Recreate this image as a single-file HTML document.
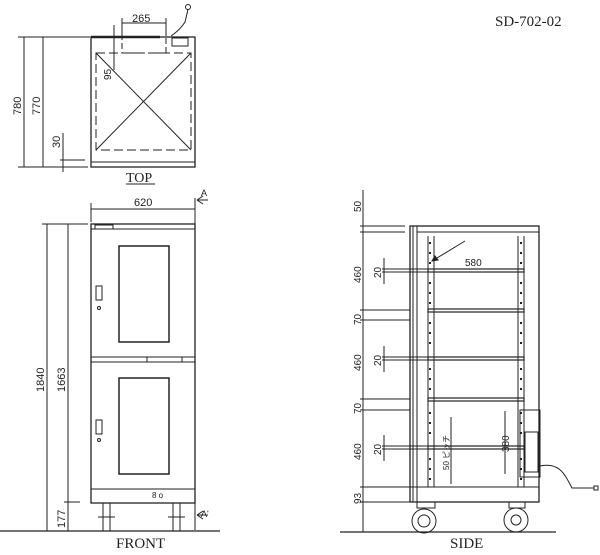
<!DOCTYPE html>
<html><head><meta charset="utf-8"><style>
html,body{margin:0;padding:0;background:#fff;}
svg{display:block;}
text{font-family:"Liberation Sans","Noto Sans CJK JP",sans-serif;fill:#222;}
.s{font-family:"Liberation Serif",serif;}
</style></head><body>
<svg width="600" height="555" viewBox="0 0 600 555" xmlns="http://www.w3.org/2000/svg" stroke="#222" fill="none" stroke-width="1">
<text class="s" x="495" y="26" font-size="15" stroke="none">SD-702-02</text>

<!-- TOP VIEW -->
<rect x="91" y="37" width="104" height="130" stroke-width="1.3"/>
<line x1="91" y1="162" x2="195" y2="162"/>
<rect x="96" y="53" width="95" height="97" stroke-dasharray="9,4"/>
<line x1="96" y1="53" x2="191" y2="150"/><line x1="191" y1="53" x2="96" y2="150"/>
<rect x="122" y="37" width="44" height="16" stroke-dasharray="6,3"/>
<line x1="91" y1="37" x2="160" y2="37" stroke-width="2.5"/>
<rect x="172" y="38" width="16" height="8"/>
<path d="M171 36 Q180 30 185 22 Q187 14 188 9"/>
<circle cx="188" cy="7" r="2.5"/>
<line x1="122" y1="23" x2="166" y2="23"/><line x1="122" y1="18" x2="122" y2="36"/><line x1="166" y1="18" x2="166" y2="36"/>
<text x="132" y="22" font-size="11" stroke="none">265</text>
<line x1="114" y1="25" x2="114" y2="70"/>
<text x="0" y="0" font-size="10" stroke="none" transform="translate(111 80) rotate(-90)">95</text>
<line x1="18" y1="37" x2="90" y2="37"/><line x1="24" y1="37" x2="24" y2="167"/><line x1="43" y1="37" x2="43" y2="167"/>
<line x1="18" y1="167" x2="88" y2="167"/>
<line x1="60" y1="160" x2="85" y2="160"/>
<line x1="63" y1="133" x2="63" y2="172"/>
<text x="0" y="0" font-size="11" stroke="none" transform="translate(21 115) rotate(-90)">780</text>
<text x="0" y="0" font-size="11" stroke="none" transform="translate(40 115) rotate(-90)">770</text>
<text x="0" y="0" font-size="11" stroke="none" transform="translate(60 148) rotate(-90)">30</text>
<text class="s" x="126" y="182" font-size="14" stroke="none">TOP</text>
<line x1="126" y1="184" x2="155" y2="184"/>

<!-- FRONT VIEW -->
<rect x="91" y="224" width="104" height="279" stroke-width="1.3"/>
<line x1="91" y1="229" x2="195" y2="229"/>
<rect x="95" y="225" width="18" height="4"/>
<line x1="91" y1="357" x2="195" y2="357"/><line x1="91" y1="362" x2="195" y2="362"/>
<rect x="147" y="357" width="35" height="5"/>
<line x1="91" y1="489" x2="195" y2="489"/>
<rect x="119" y="246" width="50" height="96" stroke-width="1.5"/>
<rect x="119" y="378" width="50" height="96" stroke-width="1.5"/>
<rect x="96" y="286" width="6" height="14"/><circle cx="99" cy="308" r="1.5"/>
<rect x="96" y="420" width="6" height="14"/><circle cx="99" cy="440" r="1.5"/>
<text x="152" y="498" font-size="8" stroke="none">8 o</text>
<rect x="103" y="503" width="7" height="28"/><rect x="173" y="503" width="7" height="28"/>
<line x1="98" y1="517" x2="115" y2="517"/><line x1="168" y1="517" x2="185" y2="517"/>
<line x1="91" y1="203" x2="91" y2="222"/><line x1="91" y1="209" x2="195" y2="209"/>
<text x="134" y="206" font-size="11" stroke="none">620</text>
<line x1="195" y1="198" x2="195" y2="530"/>
<path d="M197 200 L203 196 M197 200 L203 204 M197 200 H208"/>
<text x="201" y="196" font-size="9" stroke="none">A</text>
<path d="M197 515 L203 511 M197 515 L203 519 M197 515 H208"/>
<text x="201" y="517" font-size="9" stroke="none">A'</text>
<line x1="42" y1="224" x2="88" y2="224"/>
<line x1="47" y1="224" x2="47" y2="531"/><line x1="68" y1="224" x2="68" y2="502"/>
<line x1="64" y1="502" x2="80" y2="502"/><line x1="68" y1="502" x2="68" y2="531"/>
<text x="0" y="0" font-size="11" stroke="none" transform="translate(44 392) rotate(-90)">1840</text>
<text x="0" y="0" font-size="11" stroke="none" transform="translate(65 392) rotate(-90)">1663</text>
<text x="0" y="0" font-size="11" stroke="none" transform="translate(65 528) rotate(-90)">177</text>
<line x1="0" y1="531" x2="220" y2="531" stroke-width="1.3"/>
<text class="s" x="116" y="548" font-size="15" stroke="none">FRONT</text>

<!-- SIDE VIEW -->
<rect x="410" y="226" width="129" height="276" stroke-width="1.3"/>
<line x1="417" y1="232" x2="539" y2="232"/>
<line x1="410" y1="487" x2="539" y2="487"/>
<line x1="417" y1="226" x2="417" y2="502"/><line x1="413" y1="226" x2="413" y2="502"/>
<line x1="428" y1="236" x2="428" y2="487"/><line x1="434" y1="236" x2="434" y2="487"/>
<line x1="518" y1="236" x2="518" y2="487"/><line x1="524" y1="236" x2="524" y2="487"/>
<g stroke-width="2">
<path d="M430 242v2M430 252v2M430 262v2M430 282v2M430 292v2M430 302v2M430 322v2M430 332v2M430 342v2M430 368v2M430 378v2M430 388v2M430 412v2M430 422v2M430 432v2M430 458v2M430 468v2M430 478v2"/>
<path d="M521 242v2M521 252v2M521 262v2M521 282v2M521 292v2M521 302v2M521 322v2M521 332v2M521 342v2M521 368v2M521 378v2M521 388v2M521 412v2M521 422v2M521 432v2M521 458v2M521 468v2M521 478v2"/>
</g>
<g stroke-width="1.2">
<rect x="428" y="269" width="96" height="3"/>
<rect x="428" y="309" width="96" height="3"/>
<rect x="428" y="357" width="96" height="3"/>
<rect x="428" y="398" width="96" height="3"/>
<rect x="428" y="446" width="96" height="3"/>
</g>
<path d="M465 241 L437 258"/><path d="M432 261 l6 -1 l-3 -4z" fill="#222"/>
<text x="465" y="266" font-size="10" stroke="none">580</text>
<rect x="520" y="410" width="20" height="67"/>
<rect x="525" y="432" width="13" height="40"/>
<path d="M540 466 C560 462 565 475 572 488 L594 488"/><rect x="594" y="486" width="4" height="4"/>
<line x1="505" y1="411" x2="505" y2="474"/><text x="0" y="0" font-size="10" stroke="none" transform="translate(509 452) rotate(-90)">380</text>
<line x1="451" y1="417" x2="451" y2="484"/>
<text x="0" y="0" font-size="8" stroke="none" transform="translate(449 470) rotate(-90)">50 ピッチ</text>
<rect x="417" y="502" width="18" height="6"/><rect x="509" y="502" width="16" height="6"/>
<circle cx="424" cy="521" r="12"/><circle cx="424" cy="521" r="6"/>
<circle cx="516" cy="520" r="12"/><circle cx="516" cy="520" r="5"/>
<line x1="363" y1="190" x2="363" y2="532"/>
<g>
<line x1="360" y1="226" x2="405" y2="226"/><line x1="360" y1="232" x2="405" y2="232"/>
<line x1="360" y1="310" x2="410" y2="310"/><line x1="360" y1="320" x2="410" y2="320"/>
<line x1="360" y1="399" x2="410" y2="399"/><line x1="360" y1="410" x2="410" y2="410"/>
<line x1="360" y1="487" x2="410" y2="487"/><line x1="360" y1="502" x2="410" y2="502"/>
<line x1="382" y1="269" x2="428" y2="269"/><line x1="382" y1="272" x2="428" y2="272"/>
<line x1="382" y1="357" x2="428" y2="357"/><line x1="382" y1="360" x2="428" y2="360"/>
<line x1="382" y1="446" x2="428" y2="446"/><line x1="382" y1="449" x2="428" y2="449"/>
<line x1="384" y1="258" x2="384" y2="284"/><line x1="384" y1="346" x2="384" y2="372"/><line x1="384" y1="435" x2="384" y2="461"/>
</g>
<g font-size="10" stroke="none">
<text x="0" y="0" transform="translate(361 212) rotate(-90)">50</text>
<text x="0" y="0" transform="translate(361 283) rotate(-90)">460</text>
<text x="0" y="0" transform="translate(361 325) rotate(-90)">70</text>
<text x="0" y="0" transform="translate(361 371) rotate(-90)">460</text>
<text x="0" y="0" transform="translate(361 414) rotate(-90)">70</text>
<text x="0" y="0" transform="translate(361 460) rotate(-90)">460</text>
<text x="0" y="0" transform="translate(361 504) rotate(-90)">93</text>
<text x="0" y="0" transform="translate(381 278) rotate(-90)">20</text>
<text x="0" y="0" transform="translate(381 366) rotate(-90)">20</text>
<text x="0" y="0" transform="translate(381 455) rotate(-90)">20</text>
</g>
<line x1="340" y1="532" x2="556" y2="532" stroke-width="1.3"/>
<text class="s" x="450" y="548" font-size="15" stroke="none">SIDE</text>
</svg>
</body></html>
